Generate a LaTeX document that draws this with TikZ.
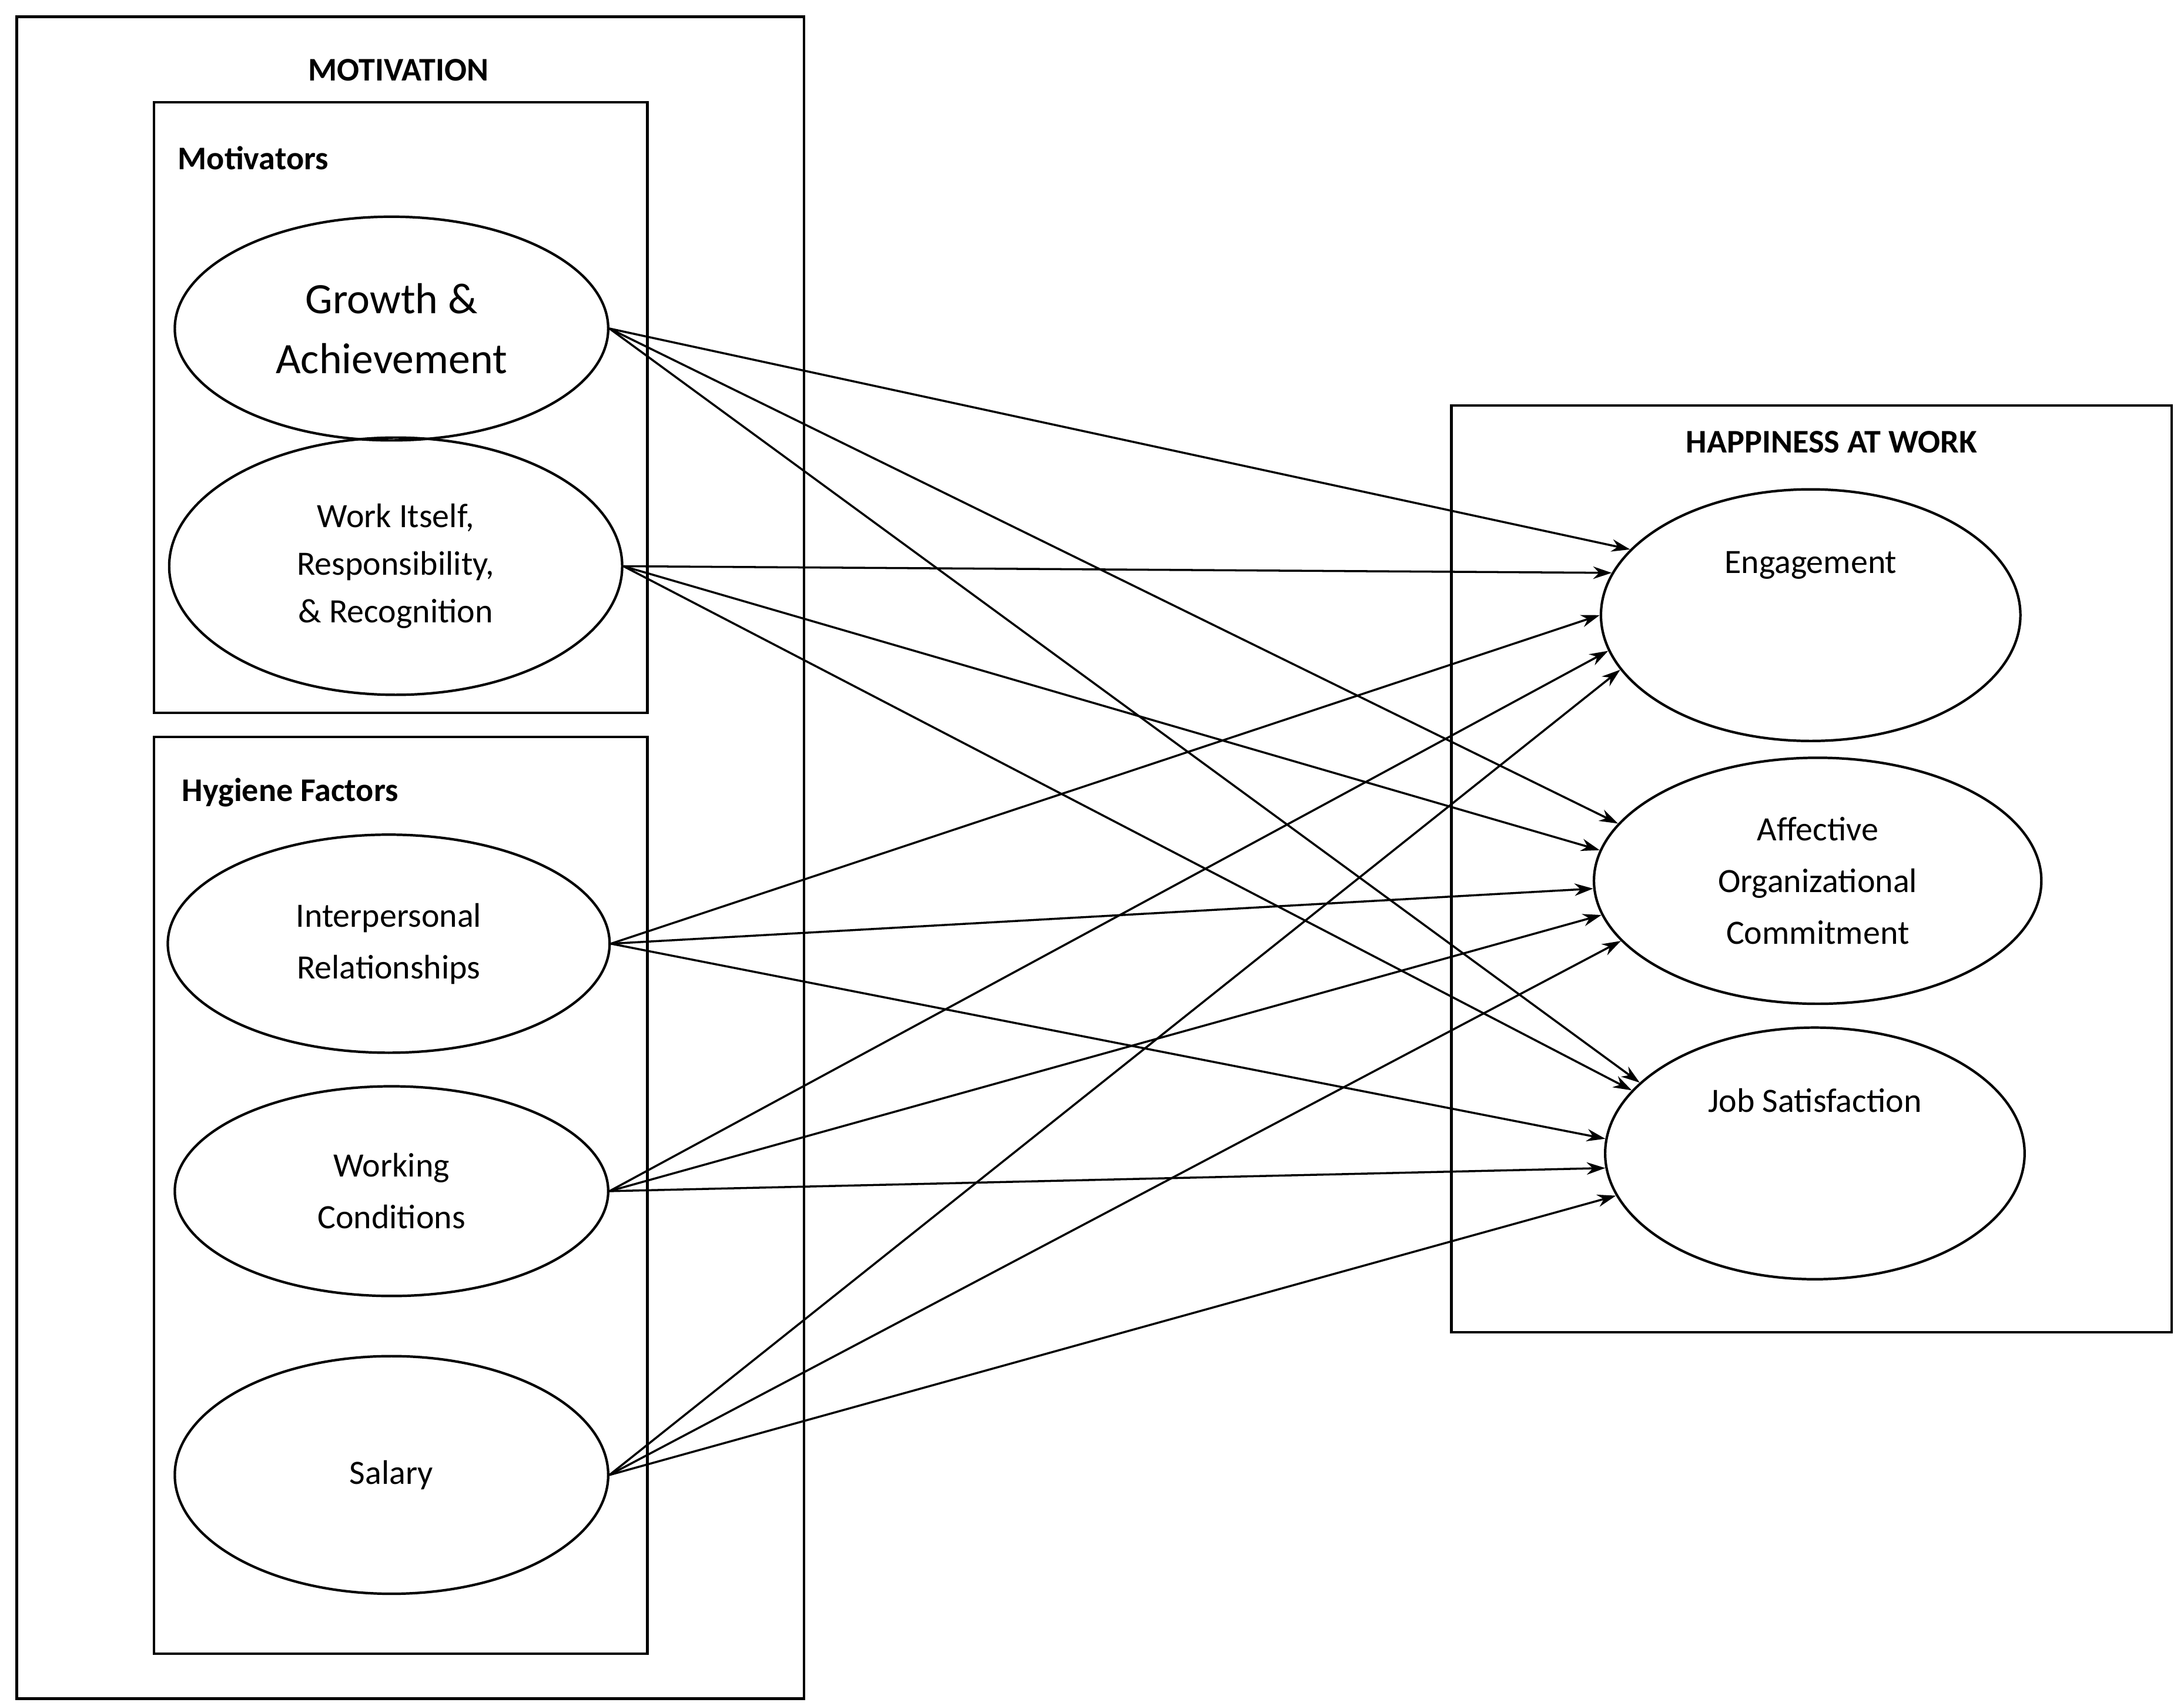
\documentclass[tikz,border=0pt]{standalone}
\usepackage{fontspec}
\setmainfont{Carlito}
\usetikzlibrary{shapes.geometric,arrows.meta}
\begin{document}
\begin{tikzpicture}[x=0.02379cm,y=-0.02379cm,
  box/.style={draw,line width=1.2pt},
  ov/.style={draw,ellipse,line width=1.2pt,inner sep=0pt,align=center,font=\fontsize{16.5}{25}\selectfont},
  ttl/.style={font=\bfseries\fontsize{16}{19}\selectfont},
  arr/.style={-{Stealth[length=9pt,width=6pt]},line width=1pt}]
\useasboundingbox (0,0) rectangle (1562,1220);
\draw[box] (12,12) rectangle (575,1215);
\node[ttl] (tm) at (285,50) {MOTIVATION};
\draw[box] (110,73) rectangle (463,510);
\node[ttl,anchor=west] (tmo) at (122,113) {Motivators};
\draw[box] (110,527) rectangle (463,1183);
\node[ttl,anchor=west] (thy) at (125,567) {Hygiene Factors};
\draw[box] (1038,290) rectangle (1553,953);
\node[ttl] (th) at (1310,316) {HAPPINESS AT WORK};

\node[ov,minimum width=310*0.02379cm,minimum height=160*0.02379cm,font=\fontsize{21}{29}\selectfont] (g) at (280,235) {Growth \&\\Achievement};
\node[ov,minimum width=324*0.02379cm,minimum height=184*0.02379cm,font=\fontsize{16.5}{23}\selectfont] (w) at (283,405) {Work Itself,\\Responsibility,\\\& Recognition};
\node[ov,minimum width=316*0.02379cm,minimum height=156*0.02379cm] (i) at (278,675) {Interpersonal\\Relationships};
\node[ov,minimum width=310*0.02379cm,minimum height=150*0.02379cm] (c) at (280,852) {Working\\Conditions};
\node[ov,minimum width=310*0.02379cm,minimum height=170*0.02379cm] (s) at (280,1055) {Salary};
\node[ov,minimum width=300*0.02379cm,minimum height=180*0.02379cm] (e) at (1295,440) {Engagement\\[1.6em]};
\node[ov,minimum width=320*0.02379cm,minimum height=176*0.02379cm] (a) at (1300,630) {Affective\\Organizational\\Commitment};
\node[ov,minimum width=300*0.02379cm,minimum height=180*0.02379cm] (j) at (1298,825) {Job Satisfaction\\[1.6em]};

\draw[arr] (g.east) -- (e.160.7);
\draw[arr] (g.east) -- (a.164.6);
\draw[arr] (g.east) -- (j.158);
\draw[arr] (w.east) -- (e.168.8);
\draw[arr] (w.east) -- (a.172);
\draw[arr] (w.east) -- (j.161);
\draw[arr] (i.east) -- (e.180);
\draw[arr] (i.east) -- (a.182);
\draw[arr] (i.east) -- (j.176);
\draw[arr] (c.east) -- (e.190);
\draw[arr] (c.east) -- (a.189);
\draw[arr] (c.east) -- (j.184);
\draw[arr] (s.east) -- (e.196);
\draw[arr] (s.east) -- (a.197);
\draw[arr] (s.east) -- (j.192);
\end{tikzpicture}
\end{document}
